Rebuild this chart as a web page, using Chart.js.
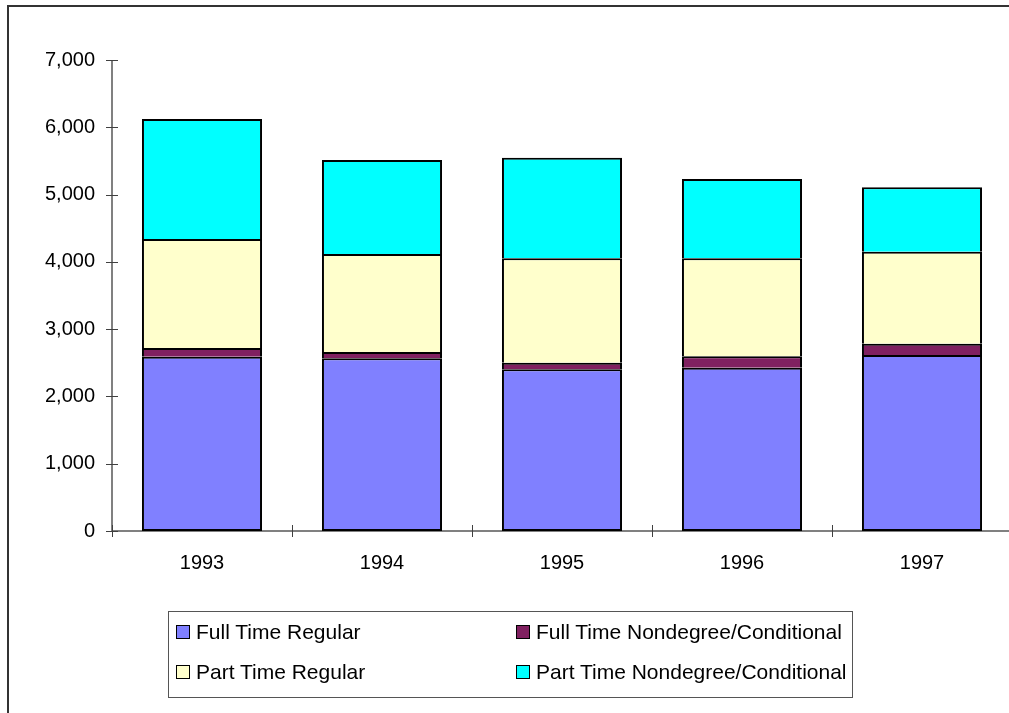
<!DOCTYPE html>
<html>
<head>
<meta charset="utf-8">
<script src="https://cdn.jsdelivr.net/npm/chart.js@4/dist/chart.umd.min.js"></script>
<style>
  html, body { margin: 0; padding: 0; background: #fff; overflow: hidden; width: 1009px; height: 713px; }
  #frame { position: absolute; left: 7px; top: 5px; width: 1100px; height: 800px; border: 2px solid #333; box-sizing: border-box; }
  #chart { position: absolute; left: 0; top: 0; }
  #legend {
    position: absolute; left: 168px; top: 611px; width: 685px; height: 87px;
    border: 1px solid #555; box-sizing: border-box;
    font-family: "Liberation Sans", Arial, sans-serif; font-size: 21px; color: #000;
  }
  .item { position: absolute; display: flex; align-items: center; height: 24px; white-space: nowrap; }
  .sw { width: 12px; height: 12px; border: 1.5px solid #000; margin-right: 6px; }
</style>
</head>
<body>
<div id="frame"></div>
<canvas id="chart" width="1030" height="713"></canvas>
<div id="legend"></div>
<script>
const years = ["1993", "1994", "1995", "1996", "1997"];
const fullTimeRegular = [2590, 2566, 2403, 2427, 2616];
const fullTimeNondegree = [129, 94, 98, 169, 168];
const partTimeRegular = [1620, 1456, 1551, 1456, 1367];
const partTimeNondegree = [1783, 1397, 1495, 1178, 957];
const yTicks = [0, 1000, 2000, 3000, 4000, 5000, 6000, 7000];

const font = { family: "'Liberation Sans', Arial, sans-serif", size: 20 };

// axis lines with Excel-style crossing tick marks
const axesPlugin = {
  id: "axes",
  beforeDatasetsDraw(chart) {
    const { ctx, chartArea: a, scales: { x, y } } = chart;
    ctx.save();
    ctx.strokeStyle = "#808080";
    ctx.lineWidth = 2;
    ctx.beginPath();
    ctx.moveTo(a.left, a.top);
    ctx.lineTo(a.left, a.bottom);
    ctx.lineTo(a.right, a.bottom);
    ctx.stroke();
    ctx.lineWidth = 1;
    ctx.strokeStyle = "#404040";
    ctx.beginPath();
    yTicks.forEach(v => {
      const py = Math.round(y.getPixelForValue(v)) + 0.5;
      ctx.moveTo(a.left - 6, py);
      ctx.lineTo(a.left + 6, py);
    });
    for (let i = 0; i <= years.length; i++) {
      const px = Math.round(x.getPixelForValue(i - 0.5)) + 0.5;
      ctx.moveTo(px, a.bottom - 6);
      ctx.lineTo(px, a.bottom + 6);
    }
    ctx.stroke();
    ctx.restore();
  }
};

const edge = { top: 2, left: 2, right: 2, bottom: 0 };
const chart = new Chart(document.getElementById("chart"), {
  type: "bar",
  data: {
    labels: years,
    datasets: [
      { label: "Full Time Regular", data: fullTimeRegular, backgroundColor: "#8080FF", borderWidth: 2 },
      { label: "Full Time Nondegree/Conditional", data: fullTimeNondegree, backgroundColor: "#802060", borderWidth: edge },
      { label: "Part Time Regular", data: partTimeRegular, backgroundColor: "#FFFFCC", borderWidth: edge },
      { label: "Part Time Nondegree/Conditional", data: partTimeNondegree, backgroundColor: "#00FFFF", borderWidth: edge }
    ]
  },
  options: {
    responsive: false,
    animation: false,
    layout: { padding: { top: 60, right: 18, left: 0, bottom: 0 } },
    datasets: { bar: { borderColor: "#000", borderSkipped: false, barPercentage: 0.667, categoryPercentage: 1 } },
    plugins: { legend: { display: false }, tooltip: { enabled: false } },
    scales: {
      x: {
        stacked: true,
        grid: { display: false, drawTicks: false },
        border: { display: false },
        ticks: { color: "#000", font: font, padding: 20 },
        afterFit(s) { s.height = 182; }
      },
      y: {
        stacked: true,
        min: 0,
        max: 7000,
        grid: { display: false, drawTicks: false },
        border: { display: false },
        ticks: {
          stepSize: 1000,
          color: "#000",
          font: font,
          padding: 17,
          callback: v => v.toLocaleString("en-US")
        },
        afterFit(s) { s.width = 112; }
      }
    }
  },
  plugins: [axesPlugin]
});

// two-column legend like the original
const legend = document.getElementById("legend");
const spots = [[7, 8], [347, 8], [7, 48], [347, 48]];
chart.data.datasets.forEach((ds, i) => {
  const el = document.createElement("div");
  el.className = "item";
  el.style.left = spots[i][0] + "px";
  el.style.top = spots[i][1] + "px";
  el.innerHTML = '<span class="sw" style="background:' + ds.backgroundColor + '"></span>' + ds.label;
  legend.appendChild(el);
});
</script>
</body>
</html>
